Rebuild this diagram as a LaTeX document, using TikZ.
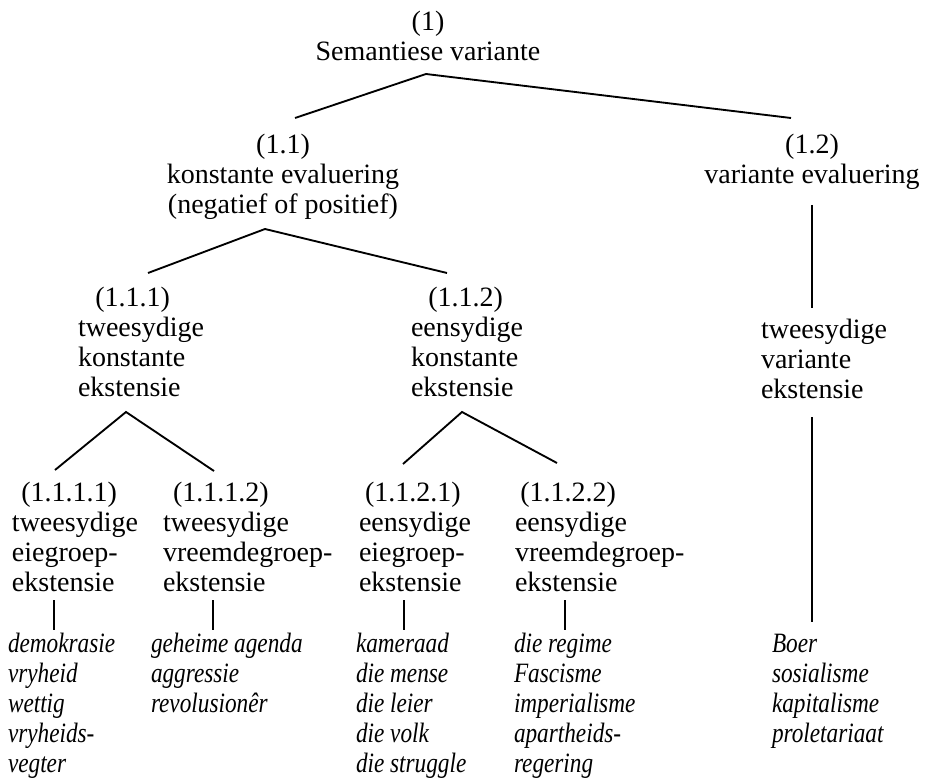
\documentclass[tikz,border=0pt]{standalone}
\usepackage{fontspec}
\setmainfont{Liberation Serif}
\newfontfamily\listfont[FakeStretch=0.83]{Liberation Serif}
\begin{document}
\begin{tikzpicture}[x=0.75pt,y=-0.75pt,
  every node/.style={inner sep=0pt, outer sep=0pt, font=\fontsize{21}{22.5}\selectfont},
  ctr/.style={anchor=base, align=center},
  lft/.style={anchor=base west, align=left},
  lst/.style={anchor=base west, align=left, font=\fontsize{21}{22.5}\selectfont\listfont\itshape},
  branch/.style={line width=1.4pt},
  stem/.style={line width=1.1pt}]
\useasboundingbox (0,0) rectangle (933,781);

% nodes (anchored at the baseline of their last line)
\node[ctr] (n1) at (428,61) {(1)\\Semantiese variante};
\node[ctr] (n11) at (283,214) {(1.1)\\konstante evaluering\\(negatief of positief)};
\node[ctr] (n12) at (812,184) {(1.2)\\variante evaluering};
\node[lft] (n111) at (78,397) {\hspace*{13pt}(1.1.1)\\tweesydige\\konstante\\ekstensie};
\node[lft] (n112) at (411,397) {\hspace*{13pt}(1.1.2)\\eensydige\\konstante\\ekstensie};
\node[lft] (n12x) at (761,398) {tweesydige\\variante\\ekstensie};
\node[lft] (n1111) at (12,591) {\hspace*{7pt}(1.1.1.1)\\tweesydige\\eiegroep-\\ekstensie};
\node[lft] (n1112) at (163,591) {\hspace*{7.5pt}(1.1.1.2)\\tweesydige\\vreemdegroep-\\ekstensie};
\node[lft] (n1121) at (359,591) {\hspace*{4.5pt}(1.1.2.1)\\eensydige\\eiegroep-\\ekstensie};
\node[lft] (n1122) at (515,591) {\hspace*{4pt}(1.1.2.2)\\eensydige\\vreemdegroep-\\ekstensie};
\node[lst] (l1) at (8,772) {demokrasie\\vryheid\\wettig\\vryheids-\\vegter};
\node[lst] (l2) at (151,712) {geheime agenda\\aggressie\\revolusionêr};
\node[lst] (l3) at (356,772) {kameraad\\die mense\\die leier\\die volk\\die struggle};
\node[lst] (l4) at (514,772) {die regime\\Fascisme\\imperialisme\\apartheids-\\regering};
\node[lst] (l5) at (772,742) {Boer\\sosialisme\\kapitalisme\\proletariaat};

% connector end points
\coordinate (a1) at (426,74);
\coordinate (e11) at (295,118);
\coordinate (e12) at (791,118);
\coordinate (a11) at (265,229);
\coordinate (e111) at (148,273);
\coordinate (e112) at (447,273);
\coordinate (v1t) at (812,205);
\coordinate (v1b) at (812,308);
\coordinate (v2t) at (812,417);
\coordinate (v2b) at (812,622);
\coordinate (a111) at (126,412);
\coordinate (e1111) at (55,470);
\coordinate (e1112) at (214,471);
\coordinate (a112) at (462,412);
\coordinate (e1121) at (403,464);
\coordinate (e1122) at (557,463);
\coordinate (s1t) at (54,600);  \coordinate (s1b) at (54,630);
\coordinate (s2t) at (213,600); \coordinate (s2b) at (213,630);
\coordinate (s3t) at (404,600); \coordinate (s3b) at (404,630);
\coordinate (s4t) at (565,600); \coordinate (s4b) at (565,630);

% connectors
\draw[branch] (e11) -- (a1) -- (e12);
\draw[branch] (e111) -- (a11) -- (e112);
\draw[branch] (e1111) -- (a111) -- (e1112);
\draw[branch] (e1121) -- (a112) -- (e1122);
\draw[stem] (v1t) -- (v1b);
\draw[stem] (v2t) -- (v2b);
\draw[stem] (s1t) -- (s1b);
\draw[stem] (s2t) -- (s2b);
\draw[stem] (s3t) -- (s3b);
\draw[stem] (s4t) -- (s4b);
\end{tikzpicture}
\end{document}
